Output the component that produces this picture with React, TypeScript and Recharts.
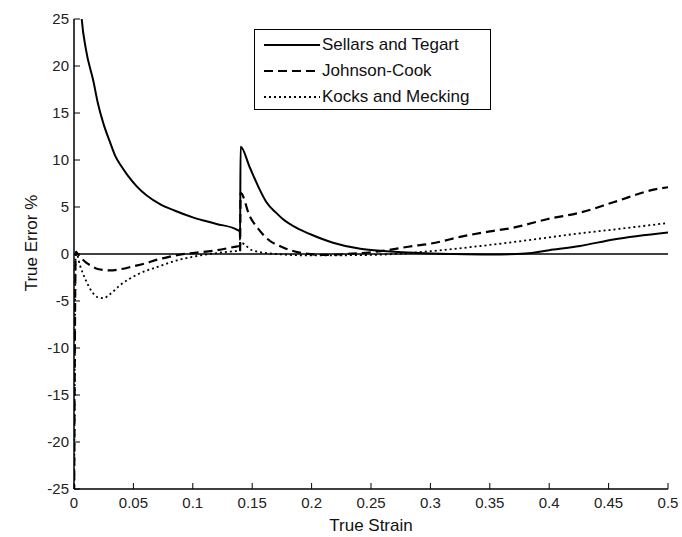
import React from "react";
import { LineChart, Line, XAxis, YAxis, ReferenceLine } from "recharts";

// Sellars and Tegart (solid)
const sellarsStrain = [0.004, 0.0065, 0.01, 0.0163, 0.02, 0.0247, 0.03, 0.0345, 0.04, 0.045, 0.0528, 0.0724, 0.085, 0.1, 0.12, 0.137, 0.1395, 0.1398, 0.1402, 0.148, 0.155, 0.162, 0.17, 0.176, 0.187, 0.199, 0.218, 0.241, 0.263, 0.29, 0.32, 0.35, 0.38, 0.4, 0.426, 0.454, 0.5];
const sellarsError = [30, 25, 21.8, 18.4, 16.1, 13.9, 12.0, 10.5, 9.3, 8.4, 7.2, 5.3, 4.6, 3.9, 3.2, 2.6, 2.4, 1.5, 11.4, 9.2, 7.2, 5.5, 4.4, 3.7, 2.8, 2.1, 1.2, 0.55, 0.3, 0.1, 0.0, -0.05, 0.05, 0.4, 0.85, 1.55, 2.3];

// Johnson-Cook (dashed)
const johnsonStrain = [0, 0.0015, 0.005, 0.01, 0.015, 0.02, 0.03, 0.04, 0.05, 0.06, 0.07, 0.08, 0.09, 0.1, 0.12, 0.135, 0.1395, 0.1398, 0.1402, 0.148, 0.155, 0.162, 0.176, 0.19, 0.21, 0.23, 0.258, 0.285, 0.3, 0.328, 0.35, 0.37, 0.398, 0.426, 0.454, 0.49, 0.5];
const johnsonError = [-30, 0.2, -0.3, -0.9, -1.3, -1.6, -1.75, -1.6, -1.3, -1.0, -0.6, -0.3, -0.05, 0.1, 0.4, 0.75, 0.85, 0.3, 6.5, 4.0, 2.7, 1.7, 0.7, 0.15, -0.1, 0.0, 0.3, 0.85, 1.1, 1.9, 2.4, 2.8, 3.7, 4.4, 5.5, 6.9, 7.1];

// Kocks and Mecking (dotted)
const kocksStrain = [0, 0.0015, 0.005, 0.01, 0.015, 0.02, 0.025, 0.03, 0.039, 0.053, 0.072, 0.086, 0.1, 0.12, 0.135, 0.1395, 0.1402, 0.15, 0.17, 0.2, 0.25, 0.3, 0.342, 0.384, 0.426, 0.454, 0.5];
const kocksError = [-30, 0.3, -1.2, -2.8, -4.0, -4.6, -4.7, -4.3, -3.3, -2.2, -1.3, -0.7, -0.3, 0.1, 0.3, 0.35, 1.2, 0.4, 0.0, -0.15, -0.1, 0.3, 0.85, 1.5, 2.2, 2.6, 3.3];

const xTicks = [0, 0.05, 0.1, 0.15, 0.2, 0.25, 0.3, 0.35, 0.4, 0.45, 0.5];
const yTicks = [-25, -20, -15, -10, -5, 0, 5, 10, 15, 20, 25];

const zip = (xs: number[], ys: number[]) => xs.map((x, i) => ({ x, y: ys[i] }));

const series = [
  { name: "Sellars and Tegart", data: zip(sellarsStrain, sellarsError), dash: undefined, width: 2 },
  { name: "Johnson-Cook", data: zip(johnsonStrain, johnsonError), dash: "9 5", width: 2.2 },
  { name: "Kocks and Mecking", data: zip(kocksStrain, kocksError), dash: "2 3", width: 1.8 },
];

const FONT = "Arial, 'Liberation Sans', Helvetica, sans-serif";
const fmt = (v: number) => String(+v.toFixed(2));

const BottomTick = ({ x, y, payload }: any) => (
  <g>
    <line x1={x} x2={x} y1={y} y2={y - 6} stroke="#000" />
    <text x={x} y={y + 19} textAnchor="middle" fontSize={15} fontFamily={FONT} fill="#222">
      {fmt(payload.value)}
    </text>
  </g>
);
const TopTick = ({ x, y }: any) => <line x1={x} x2={x} y1={y} y2={y + 6} stroke="#000" />;
const LeftTick = ({ x, y, payload }: any) => (
  <g>
    <line x1={x} x2={x + 6} y1={y} y2={y} stroke="#000" />
    <text x={x - 5} y={y + 5} textAnchor="end" fontSize={15} fontFamily={FONT} fill="#222">
      {fmt(payload.value)}
    </text>
  </g>
);
const RightTick = ({ x, y }: any) => <line x1={x} x2={x - 6} y1={y} y2={y} stroke="#000" />;

const LegendBox = () => (
  <div
    style={{
      position: "absolute",
      left: 254,
      top: 29,
      width: 237,
      height: 81,
      border: "1.5px solid #000",
      background: "#fff",
      boxSizing: "border-box",
      fontFamily: FONT,
      fontSize: 17,
      color: "#111",
      paddingTop: 2,
    }}
  >
    {series.map((s) => (
      <div key={s.name} style={{ display: "flex", alignItems: "center", height: 26 }}>
        <svg width={58} height={10} style={{ marginLeft: 8 }}>
          <line x1={1} x2={57} y1={5} y2={5} stroke="#000" strokeWidth={s.width} strokeDasharray={s.dash} />
        </svg>
        <span style={{ marginLeft: 1 }}>{s.name}</span>
      </div>
    ))}
  </div>
);

export default function App() {
  return (
    <div style={{ position: "fixed", left: 0, top: 0, width: 682, height: 537, background: "#fff" }}>
      <LineChart width={682} height={537} margin={{ top: 19, right: 14, bottom: 18, left: 34 }}>
        <XAxis
          type="number"
          dataKey="x"
          domain={[0, 0.5]}
          ticks={xTicks}
          interval={0}
          allowDataOverflow
          height={30}
          tickSize={0}
          tickMargin={0}
          tickLine={false}
          tick={<BottomTick />}
          axisLine={{ stroke: "#000", strokeWidth: 1.5 }}
        />
        <XAxis
          xAxisId="top"
          orientation="top"
          type="number"
          dataKey="x"
          domain={[0, 0.5]}
          ticks={xTicks}
          interval={0}
          allowDataOverflow
          height={0}
          tickSize={0}
          tickMargin={0}
          tickLine={false}
          tick={<TopTick />}
          axisLine={{ stroke: "#000", strokeWidth: 1.5 }}
        />
        <YAxis
          type="number"
          domain={[-25, 25]}
          ticks={yTicks}
          interval={0}
          allowDataOverflow
          width={40}
          tickSize={0}
          tickMargin={0}
          tickLine={false}
          tick={<LeftTick />}
          axisLine={{ stroke: "#000", strokeWidth: 1.5 }}
        />
        <YAxis
          yAxisId="right"
          orientation="right"
          type="number"
          domain={[-25, 25]}
          ticks={yTicks}
          interval={0}
          allowDataOverflow
          width={0}
          tickSize={0}
          tickMargin={0}
          tickLine={false}
          tick={<RightTick />}
          axisLine={{ stroke: "#000", strokeWidth: 1.5 }}
        />
        <ReferenceLine y={0} stroke="#000" strokeWidth={1.5} />
        {series.map((s) => (
          <Line
            key={s.name}
            data={s.data}
            dataKey="y"
            name={s.name}
            type="monotone"
            stroke="#000"
            strokeWidth={s.width}
            strokeDasharray={s.dash}
            dot={false}
            isAnimationActive={false}
          />
        ))}
      </LineChart>
      <LegendBox />
      <div
        style={{
          position: "absolute",
          left: 371,
          top: 516,
          transform: "translateX(-50%)",
          fontFamily: FONT,
          fontSize: 17,
          color: "#111",
          whiteSpace: "nowrap",
        }}
      >
        True Strain
      </div>
      <div
        style={{
          position: "absolute",
          left: 32,
          top: 243,
          transform: "translate(-50%, -50%) rotate(-90deg)",
          fontFamily: FONT,
          fontSize: 17,
          color: "#111",
          whiteSpace: "nowrap",
        }}
      >
        True Error %
      </div>
    </div>
  );
}
